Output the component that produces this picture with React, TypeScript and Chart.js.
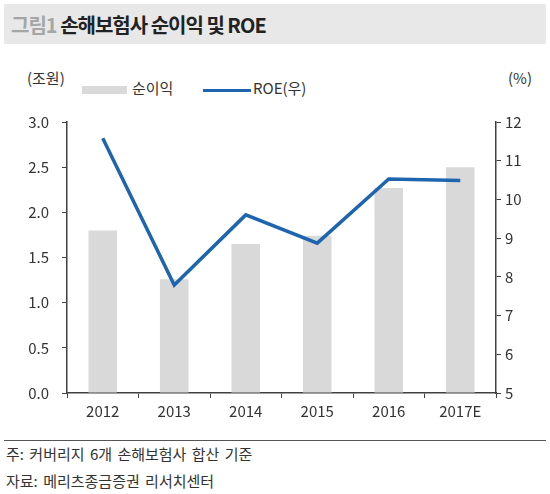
import { useEffect, useRef } from "react"
import { Chart, registerables } from "chart.js"

Chart.register(...registerables)

const years = ["2012", "2013", "2014", "2015", "2016", "2017E"]
const netIncome = [1.8, 1.26, 1.65, 1.74, 2.27, 2.5]
const roe = [11.58, 7.79, 9.6, 8.87, 10.53, 10.49]

const FONT = "'Noto Sans CJK KR', 'Noto Sans', sans-serif"
const BAR_COLOR = "#d9d9d9"
const LINE_COLOR = "#1d65ae"
const AXIS_COLOR = "#404040"

export default function App() {
  const chartRef = useRef<HTMLCanvasElement>(null)
  const chartInstance = useRef<Chart | null>(null)

  useEffect(() => {
    if (!chartRef.current) return
    if (chartInstance.current) chartInstance.current.destroy()
    const ctx = chartRef.current.getContext("2d")
    if (!ctx) return

    chartInstance.current = new Chart(ctx, {
      type: "bar",
      data: {
        labels: years,
        datasets: [
          {
            type: "line",
            label: "ROE(우)",
            data: roe,
            yAxisID: "y1",
            borderColor: LINE_COLOR,
            borderWidth: 3.5,
            pointRadius: 0,
            tension: 0,
            order: 0,
          },
          {
            type: "bar",
            label: "순이익",
            data: netIncome,
            yAxisID: "y",
            backgroundColor: BAR_COLOR,
            categoryPercentage: 1,
            barPercentage: 0.4,
            order: 1,
          },
        ],
      },
      options: {
        animation: false,
        responsive: true,
        maintainAspectRatio: false,
        layout: { padding: { top: 22, left: 0, right: 0, bottom: 0 } },
        scales: {
          x: {
            grid: { display: true, drawOnChartArea: false, tickLength: 5, color: AXIS_COLOR, offset: true },
            border: { display: true, color: AXIS_COLOR, width: 1.5 },
            ticks: { color: "#333", font: { family: FONT, size: 15 }, padding: 4 },
            afterFit: (scale: any) => { scale.height = 32 },
          },
          y: {
            position: "left",
            min: 0,
            max: 3,
            ticks: {
              stepSize: 0.5,
              color: "#333",
              font: { family: FONT, size: 15 },
              padding: 13,
              callback: (v: any) => Number(v).toFixed(1),
            },
            grid: { display: true, drawOnChartArea: false, tickLength: 5, color: AXIS_COLOR },
            border: { display: true, color: AXIS_COLOR, width: 1.5 },
            afterFit: (scale: any) => { scale.width = 67 },
          },
          y1: {
            position: "right",
            min: 5,
            max: 12,
            ticks: { stepSize: 1, color: "#333", font: { family: FONT, size: 15 }, padding: 4 },
            grid: { display: true, drawOnChartArea: false, tickLength: 5, color: AXIS_COLOR },
            border: { display: true, color: AXIS_COLOR, width: 1.5 },
            afterFit: (scale: any) => { scale.width = 54 },
          },
        },
        plugins: {
          legend: { display: false },
          tooltip: { enabled: false },
        },
      },
    })

    return () => {
      if (chartInstance.current) {
        chartInstance.current.destroy()
        chartInstance.current = null
      }
    }
  }, [])

  const label = { position: "absolute" as const, fontSize: 15, lineHeight: "20px", color: "#333", whiteSpace: "nowrap" as const }

  return (
    <div style={{ position: "fixed", left: 0, top: 0, width: 550, height: 494, fontFamily: FONT, color: "#222", background: "#fff", overflow: "hidden" }}>
      {/* 제목 */}
      <div style={{ position: "absolute", left: 4, top: 4, width: 542, height: 40, background: "#e8e8e8" }} />
      <div style={{ position: "absolute", left: 11, top: 12, fontSize: 20, fontWeight: 700, lineHeight: "26px", letterSpacing: -1, whiteSpace: "nowrap" }}>
        <span style={{ color: "#a6a6a6" }}>그림1</span> 손해보험사 순이익 및 ROE
      </div>

      {/* 단위 및 범례 */}
      <div style={{ ...label, left: 27, top: 68 }}>(조원)</div>
      <div style={{ ...label, left: 508, top: 68 }}>(%)</div>
      <div style={{ position: "absolute", left: 82, top: 86, width: 45, height: 8, background: BAR_COLOR }} />
      <div style={{ ...label, left: 132, top: 78 }}>순이익</div>
      <div style={{ position: "absolute", left: 203, top: 88.5, width: 48, height: 3.5, background: LINE_COLOR }} />
      <div style={{ ...label, left: 253, top: 78 }}>ROE(우)</div>

      <div style={{ position: "absolute", left: 0, top: 100, width: 550, height: 325 }}>
        <canvas ref={chartRef} />
      </div>

      {/* 주석 */}
      <div style={{ position: "absolute", left: 4, top: 439.5, width: 542, height: 1.5, background: "#555" }} />
      <div style={{ ...label, left: 6, top: 444, wordSpacing: 2 }}>주: 커버리지 6개 손해보험사 합산 기준</div>
      <div style={{ ...label, left: 6, top: 471, wordSpacing: 2 }}>자료: 메리츠종금증권 리서치센터</div>
    </div>
  )
}
